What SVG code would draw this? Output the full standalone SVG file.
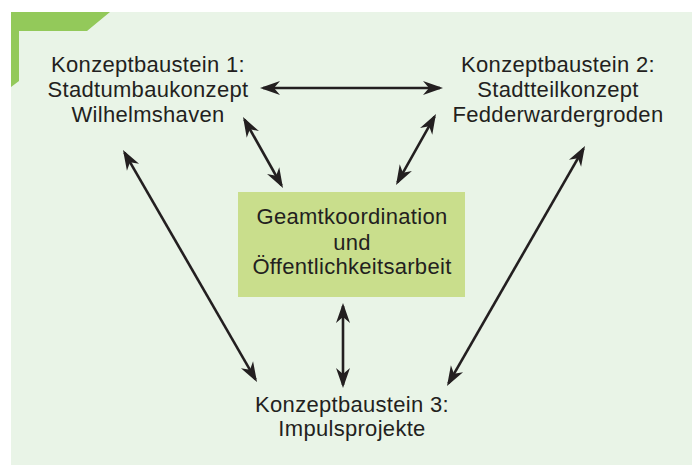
<svg xmlns="http://www.w3.org/2000/svg" width="694" height="465" viewBox="0 0 694 465">
  <style>
    .t { font-family: "Liberation Sans", Arial, sans-serif; font-size: 22px; fill: #231f20; text-anchor: middle; letter-spacing: 0.3px; }
    .c { stroke: #231f20; stroke-width: 2.6; fill: none; marker-start: url(#ah); marker-end: url(#ah); }
  </style>
  <defs>
    <marker id="ah" viewBox="-22 -9 24 18" refX="-3" refY="0" markerWidth="24" markerHeight="18" markerUnits="userSpaceOnUse" orient="auto-start-reverse">
      <path d="M0,0 L-20,-7 L-14,0 L-20,7 Z" fill="#231f20"/>
    </marker>
  </defs>
  <rect id="background" x="11" y="12" width="681" height="453" fill="#e9f4e7"/>
  <polygon id="corner" points="11,12 110,12 87,31 19,31 19,81 11,87" fill="#93c95a"/>

  <g id="connectors">
    <line class="c" x1="263" y1="88" x2="440" y2="88"/>
    <line class="c" x1="244.5" y1="119.6" x2="281.5" y2="185.4"/>
    <line class="c" x1="434.5" y1="116.6" x2="397.5" y2="182.4"/>
    <line class="c" x1="124.5" y1="152.6" x2="255.5" y2="379.4"/>
    <line class="c" x1="583.5" y1="148.6" x2="448.5" y2="383.4"/>
    <line class="c" x1="343" y1="306" x2="343" y2="385"/>
  </g>

  <g id="node1">
    <text class="t" x="148" y="72">Konzeptbaustein 1:</text>
    <text class="t" x="148" y="97">Stadtumbaukonzept</text>
    <text class="t" x="148" y="122">Wilhelmshaven</text>
  </g>
  <g id="node2">
    <text class="t" x="558" y="72">Konzeptbaustein 2:</text>
    <text class="t" x="558" y="97">Stadtteilkonzept</text>
    <text class="t" x="558" y="122">Fedderwardergroden</text>
  </g>
  <g id="center">
    <rect x="238" y="192" width="227" height="105" fill="#c9de8c"/>
    <text class="t" x="352" y="224">Geamtkoordination</text>
    <text class="t" x="352" y="250">und</text>
    <text class="t" x="352" y="274">Öffentlichkeitsarbeit</text>
  </g>
  <g id="node3">
    <text class="t" x="352" y="412">Konzeptbaustein 3:</text>
    <text class="t" x="352" y="436">Impulsprojekte</text>
  </g>
</svg>
